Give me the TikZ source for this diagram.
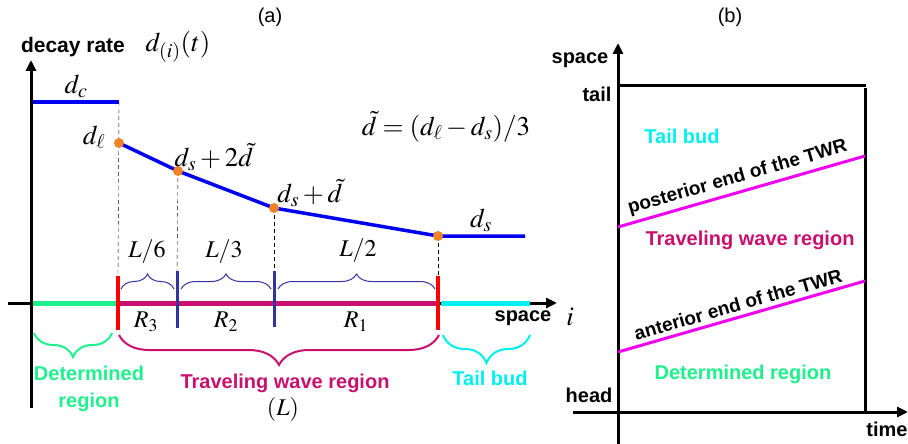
\documentclass[tikz,border=0pt]{standalone}
\usepackage{mathptmx}
\usepackage{fontspec}
\setmainfont{Liberation Sans}
\usetikzlibrary{arrows.meta,decorations.pathreplacing}
\definecolor{cgreen}{RGB}{30,240,140}
\definecolor{cmag}{RGB}{200,16,110}
\definecolor{ccyan}{RGB}{0,240,240}
\definecolor{cpink}{RGB}{240,0,240}
\definecolor{cnavy}{RGB}{50,50,160}
\definecolor{cblue}{RGB}{0,0,240}
\definecolor{corange}{RGB}{240,130,40}
\definecolor{cred}{RGB}{255,0,0}
\tikzset{
  lab/.style={font=\fontsize{20}{22}\selectfont\bfseries, inner sep=0pt},
  plain/.style={font=\fontsize{20}{22}\selectfont, inner sep=0pt},
  mth/.style={font=\fontsize{27}{29}\selectfont, inner sep=0pt},
  mths/.style={font=\fontsize{24}{26}\selectfont, inner sep=0pt},
  axis/.style={line width=3pt, -{Triangle[length=11pt,width=10pt]}},
  frame/.style={line width=3pt},
  curve/.style={line width=3.5pt, cblue},
  dot/.style={circle, fill=corange, inner sep=0pt, minimum size=10pt},
  guide/.style={thin, dashed, dash pattern=on 4pt off 3pt},
  seg/.style={line width=5pt},
  tick/.style={line width=4pt},
  brace/.style={decorate, line width=1.2pt},
  slab/.style={font=\fontsize{19}{21}\selectfont\bfseries, text=black, sloped, above=4pt, inner sep=0pt},
}
\begin{document}
\begin{tikzpicture}[x=1pt,y=-1pt]
\useasboundingbox (0,0) rectangle (908,444);

% ---------------- panel (a) ----------------
\node[plain] (ta) at (270,17) {(a)};

\coordinate (ax0) at (8,303);
\coordinate (ax1) at (557,303);
\coordinate (ay0) at (31,408);
\coordinate (ay1) at (31,60);
\draw[axis] (ay0) -- (ay1);
\draw[axis] (ax0) -- (ax1);

\node[lab, font=\fontsize{21}{23}\selectfont\bfseries] (dr) at (73,47) {decay rate};
\node[mth] (dit) at (178,47) {$d_{(i)}(t)$};

% decay curve
\coordinate (c1) at (33,102);
\coordinate (c2) at (119,102);
\coordinate (p1) at (119,143);
\coordinate (p2) at (178,171);
\coordinate (p3) at (274,208);
\coordinate (p4) at (438,236);
\coordinate (e1) at (525,236);

% ticks
\coordinate (r1t) at (118,276); \coordinate (r1b) at (118,330);
\coordinate (r2t) at (438,276); \coordinate (r2b) at (438,330);
\coordinate (n1t) at (177,271); \coordinate (n1b) at (177,328);
\coordinate (n2t) at (274,271); \coordinate (n2b) at (274,327);

\draw[guide] (c2) -- (r1t);
\draw[guide] (p2) -- (n1t);
\draw[guide] (p3) -- (n2t);
\draw[guide] (p4) -- (r2t);

\draw[curve] (c1) -- (c2);
\draw[curve] (p1) -- (p2) -- (p3) -- (p4) -- (e1);
\node[dot] (d1) at (p1) {};
\node[dot] (d2) at (p2) {};
\node[dot] (d3) at (p3) {};
\node[dot] (d4) at (p4) {};

\node[mth] (ldc) at (76,86) {$d_c$};
\node[mth] (ldl) at (94,137) {$d_\ell$};
\node[mth] (l2d) at (214,157) {$d_s+2\tilde{d}$};
\node[mth] (l1d) at (310,193) {$d_s+\tilde{d}$};
\node[mth] (lds) at (481,220) {$d_s$};
\node[mth] (ldef) at (446,127) {$\tilde{d}=(d_\ell-d_s)/3$};

% colored segments on axis
\coordinate (g0) at (33,303); \coordinate (g1) at (117,303);
\coordinate (m0) at (119,303); \coordinate (m1) at (437,303);
\coordinate (t0) at (441,303); \coordinate (t1) at (530,303);
\draw[seg, cgreen] (g0) -- (g1);
\draw[seg, cmag] (m0) -- (m1);
\draw[seg, ccyan] (t0) -- (t1);

\draw[tick, cred] (r1t) -- (r1b);
\draw[tick, cred] (r2t) -- (r2b);
\draw[line width=3pt, cnavy] (n1t) -- (n1b);
\draw[line width=3pt, cnavy] (n2t) -- (n2b);

% upper braces
\coordinate (b1a) at (121,289); \coordinate (b1b) at (174,289);
\coordinate (b2a) at (181,289); \coordinate (b2b) at (271,289);
\coordinate (b3a) at (278,289); \coordinate (b3b) at (435,289);
\draw[brace, cnavy, line width=1pt, decoration={brace, amplitude=15pt}] (b1a) -- (b1b);
\draw[brace, cnavy, line width=1pt, decoration={brace, amplitude=15pt}] (b2a) -- (b2b);
\draw[brace, cnavy, line width=1pt, decoration={brace, amplitude=15pt}] (b3a) -- (b3b);
\node[mths] (l6) at (147,252) {$L/6$};
\node[mths] (l3) at (224,252) {$L/3$};
\node[mths] (l2) at (358,251) {$L/2$};

\node[mths] (r3) at (146,322) {$R_3$};
\node[mths] (r2) at (226,322) {$R_2$};
\node[mths] (r1) at (356,322) {$R_1$};

\node[lab] (spa) at (523,318) {space};
\node[mth] (ii) at (570,317) {$i$};

% lower braces
\coordinate (gb0) at (34,333); \coordinate (gb1) at (112,333);
\coordinate (mb0) at (119,335); \coordinate (mb1) at (439,335);
\coordinate (cb0) at (443,335); \coordinate (cb1) at (530,335);
\draw[brace, cgreen, line width=2pt, decoration={brace, mirror, amplitude=24pt}] (gb0) -- (gb1);
\draw[brace, cmag, line width=2pt, decoration={brace, mirror, amplitude=30pt}] (mb0) -- (mb1);
\draw[brace, ccyan, line width=2pt, decoration={brace, mirror, amplitude=28pt}] (cb0) -- (cb1);

\node[lab, cgreen, align=center, font=\fontsize{20}{27}\selectfont\bfseries] (detA) at (89,389) {Determined\\region};
\node[lab, cmag] (twrA) at (285,383) {Traveling wave region};
\node[mths] (LL) at (283,409) {$(L)$};
\node[lab, ccyan] (tbA) at (490,378) {Tail bud};

% ---------------- panel (b) ----------------
\node[plain] (tb) at (730,17) {(b)};
\coordinate (by0) at (618,444);
\coordinate (by1) at (618,43);
\coordinate (bx0) at (573,412);
\coordinate (bx1) at (908,412);
\draw[axis] (by0) -- (by1);
\draw[axis] (bx0) -- (bx1);
\coordinate (tl) at (618,86);
\coordinate (tr) at (866,86);
\coordinate (rt) at (865,88);
\coordinate (rb) at (865,412);
\draw[frame] (tl) -- (tr);
\draw[frame] (rt) -- (rb);

\node[lab] (spb) at (580,60) {space};
\node[lab] (tail) at (597,94) {tail};
\node[lab] (head) at (589,395) {head};
\node[lab] (time) at (887,429) {time};

\coordinate (pa) at (618,227);
\coordinate (pb) at (865,156);
\coordinate (aa) at (618,352);
\coordinate (ab) at (865,281);
\draw[line width=3pt, cpink] (pa) -- node[slab] (post) {posterior end of the TWR} (pb);
\draw[line width=3pt, cpink] (aa) -- node[slab] (ant) {anterior end of the TWR} (ab);

\node[lab, ccyan] (tbB) at (682,136) {Tail bud};
\node[lab, cmag] (twrB) at (750,240) {Traveling wave region};
\node[lab, cgreen] (detB) at (743,374) {Determined region};
\end{tikzpicture}
\end{document}
